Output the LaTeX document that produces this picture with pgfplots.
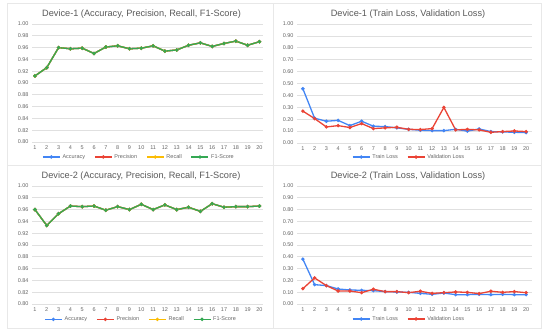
\documentclass[border=0pt]{standalone}
\usepackage{fontspec}
\setmainfont{Liberation Sans}
\usepackage{pgfplots}
\usepackage{pgfplotstable}
\pgfplotsset{compat=1.18}
\definecolor{gblue}{HTML}{4285F4}
\definecolor{gred}{HTML}{EA4335}
\definecolor{gyellow}{HTML}{FBBC04}
\definecolor{ggreen}{HTML}{34A853}
\definecolor{gridc}{HTML}{E0E0E0}
\definecolor{txt}{HTML}{666666}
\definecolor{ttl}{HTML}{595959}

\pgfplotstableread{
e acc
1 0.912
2 0.926
3 0.960
4 0.958
5 0.959
6 0.950
7 0.961
8 0.963
9 0.958
10 0.959
11 0.963
12 0.954
13 0.956
14 0.964
15 0.968
16 0.962
17 0.967
18 0.971
19 0.964
20 0.970
}\accA

\pgfplotstableread{
e acc
1 0.960
2 0.933
3 0.953
4 0.966
5 0.965
6 0.966
7 0.959
8 0.965
9 0.960
10 0.969
11 0.960
12 0.968
13 0.960
14 0.964
15 0.957
16 0.970
17 0.964
18 0.965
19 0.965
20 0.966
}\accB

\pgfplotstableread{
e train val
1 0.456 0.268
2 0.208 0.205
3 0.183 0.135
4 0.190 0.146
5 0.146 0.130
6 0.183 0.163
7 0.141 0.121
8 0.138 0.127
9 0.127 0.132
10 0.115 0.115
11 0.107 0.113
12 0.104 0.121
13 0.104 0.299
14 0.115 0.110
15 0.100 0.115
16 0.118 0.110
17 0.096 0.090
18 0.093 0.096
19 0.090 0.101
20 0.087 0.096
}\lossA

\pgfplotstableread{
e train val
1 0.380 0.130
2 0.164 0.221
3 0.156 0.156
4 0.127 0.110
5 0.119 0.110
6 0.116 0.096
7 0.113 0.125
8 0.105 0.105
9 0.102 0.105
10 0.099 0.096
11 0.090 0.108
12 0.082 0.090
13 0.093 0.096
14 0.079 0.102
15 0.079 0.099
16 0.082 0.088
17 0.079 0.108
18 0.082 0.099
19 0.079 0.105
20 0.079 0.096
}\lossB

\pgfplotsset{
 panel/.style={
  scale only axis, anchor=south west,
  axis line style={draw=none}, tick style={draw=none},
  ymajorgrids, major grid style={gridc, line width=0.6pt},
  xtick={1,...,20},
  /pgf/number format/assume math mode=true,
  tick label style={font=\fontsize{5.5}{6}\selectfont, text=txt},
  yticklabel style={/pgf/number format/fixed, /pgf/number format/fixed zerofill, /pgf/number format/precision=2},
  legend style={draw=none, fill=none, font=\fontsize{5.5}{6}\selectfont, text=txt, anchor=center, /tikz/every even column/.append style={column sep=7pt}},
  legend columns=-1,
  every axis plot/.append style={line width=1.3pt, mark=*, mark size=1pt, mark options={solid}},
 },
 accp/.style={panel, width=231pt, height=118pt, xmin=0.75, xmax=20.3, ymin=0.8, ymax=1.0, ytick={0.80,0.82,...,1.001}},
 lossp/.style={panel, width=235pt, height=119pt, xmin=0.5, xmax=20.5, ymin=0, ymax=1.0, ytick={0,0.1,...,1.001}},
}
\tikzset{ttlnode/.style={font=\fontsize{9.2}{10}\selectfont, text=ttl, anchor=center, inner sep=0pt}}

\begin{document}
\begin{tikzpicture}
\useasboundingbox (0pt,0pt) rectangle (550pt,334pt);
\draw[gray!18, line width=0.5pt] (7pt,6pt) rectangle (541pt,331pt);
\draw[gray!18, line width=0.5pt] (273pt,6pt) -- (273pt,331pt);
\draw[gray!18, line width=0.5pt] (7pt,169pt) -- (541pt,169pt);

\node[ttlnode] at (141.5pt,319.5pt) {Device-1 (Accuracy, Precision, Recall, F1-Score)};
\node[ttlnode] at (408pt,319.5pt) {Device-1 (Train Loss, Validation Loss)};
\node[ttlnode] at (141pt,158pt) {Device-2 (Accuracy, Precision, Recall, F1-Score)};
\node[ttlnode] at (408pt,158pt) {Device-2 (Train Loss, Validation Loss)};

\begin{axis}[accp, at={(32pt,192pt)},
  legend style={at={(0.463,-0.127)}}]
\addplot[gblue] table[x=e,y=acc]{\accA};
\addplot[gred] table[x=e,y=acc]{\accA};
\addplot[gyellow] table[x=e,y=acc]{\accA};
\addplot[ggreen] table[x=e,y=acc]{\accA};
\legend{Accuracy,Precision,Recall,F1-Score}
\end{axis}

\begin{axis}[lossp, at={(297pt,191pt)},
  legend style={at={(0.477,-0.118)}}]
\addplot[gblue] table[x=e,y=train]{\lossA};
\addplot[gred] table[x=e,y=val]{\lossA};
\legend{Train Loss,Validation Loss}
\end{axis}

\begin{axis}[accp, at={(32pt,30pt)},
  legend style={at={(0.472,-0.13)}}]
\addplot[gblue] table[x=e,y=acc]{\accB};
\addplot[gred] table[x=e,y=acc]{\accB};
\addplot[gyellow] table[x=e,y=acc]{\accB};
\addplot[ggreen] table[x=e,y=acc]{\accB};
\legend{Accuracy,Precision,Recall,F1-Score}
\end{axis}

\begin{axis}[lossp, height=118pt, at={(297pt,30pt)},
  legend style={at={(0.477,-0.127)}}]
\addplot[gblue] table[x=e,y=train]{\lossB};
\addplot[gred] table[x=e,y=val]{\lossB};
\legend{Train Loss,Validation Loss}
\end{axis}
\end{tikzpicture}
\end{document}
